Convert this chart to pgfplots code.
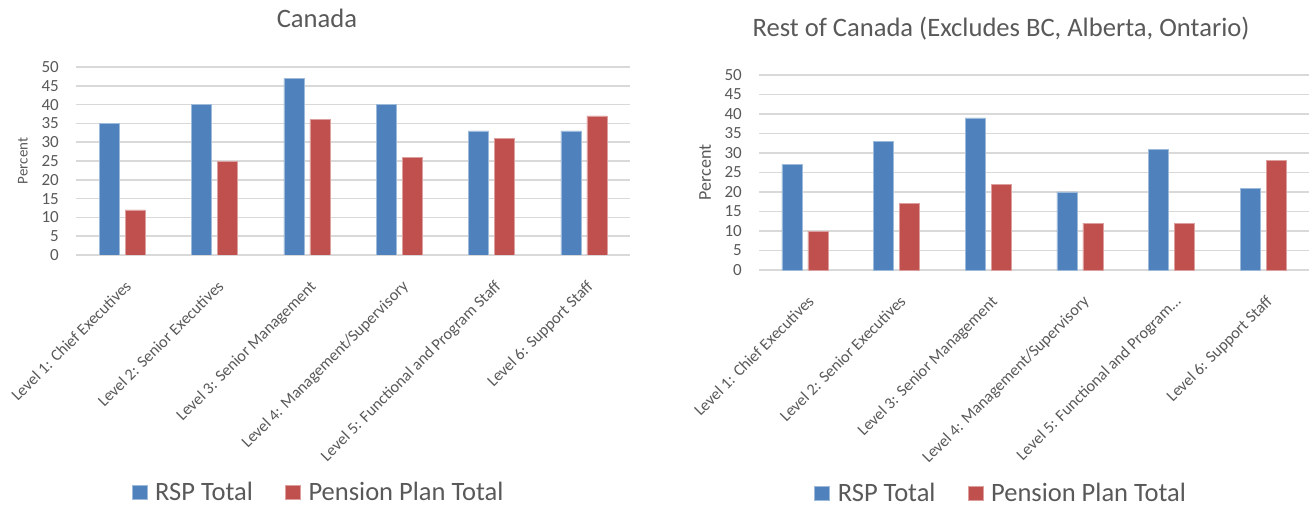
\documentclass[border=0pt]{standalone}
\usepackage{pgfplots}
\pgfplotsset{compat=1.18}
\usepackage{fontspec}
\setmainfont{Carlito}
\definecolor{rspblue}{HTML}{4F81BD}
\definecolor{pensred}{HTML}{C0504D}
\definecolor{gridgray}{HTML}{D9D9D9}
\definecolor{txtgray}{HTML}{595959}

\pgfplotsset{
  levelchart/.style={
    scale only axis,
    ybar, bar width=20pt, ybar=6pt,
    ymin=0, ymax=50, ytick={0,5,...,50},
    xmin=-0.5, xmax=5.5, xtick={0,...,5},
    axis line style={draw=none},
    tick style={draw=none},
    ymajorgrids, grid style={gridgray, line width=1.5pt},
    /pgf/number format/assume math mode=true,
    yticklabel style={font=\fontsize{17}{17}\selectfont, text=txtgray, anchor=east, inner sep=0pt, xshift=-17pt},
    xticklabel style={font=\fontsize{16.3}{16.3}\selectfont, text=txtgray, inner sep=0pt, xshift=2pt, yshift=-20pt, rotate=45, anchor=north east},
    every axis y label/.style={rotate=90, anchor=center, text=txtgray},
    every axis title/.style={anchor=center, text=txtgray, font=\fontsize{26.6}{26.6}\selectfont},
    legend columns=-1,
    legend style={draw=none, fill=none, inner sep=0pt, font=\fontsize{26.5}{26.5}\selectfont, text=txtgray, anchor=west,
      /tikz/every odd column/.append style={column sep=6pt},
      /tikz/every even column/.append style={column sep=30pt}},
    legend image code/.code={\fill[##1] (0pt,-7pt) rectangle (15pt,7pt);},
  },
  rsp/.style={fill=rspblue, draw=rspblue!55!white, line width=0.6pt},
  pens/.style={fill=pensred, draw=pensred!55!white, line width=0.6pt},
}

\begin{document}
\begin{tikzpicture}
\path[use as bounding box] (0,0) rectangle (1309pt,506pt);

% Canada
\begin{axis}[levelchart,
  at={(76pt,251pt)}, anchor=south west,
  width=554pt, height=188pt,
  xticklabels={Level 1: Chief Executives, Level 2: Senior Executives, Level 3: Senior Management, Level 4: Management/Supervisory, Level 5: Functional and Program Staff, Level 6: Support Staff},
  ylabel={Percent},
  ylabel style={at={(axis description cs:-0.096,0.5)}, font=\fontsize{15}{15}\selectfont},
  title={Canada},
  title style={at={(axis description cs:0.435,1.261)}},
  legend style={at={(axis description cs:0.1,-1.261)}},
]
\addplot[rsp] coordinates {(0,35) (1,40) (2,47) (3,40) (4,33) (5,33)};
\addplot[pens] coordinates {(0,12) (1,25) (2,36) (3,26) (4,31) (5,37)};
\legend{RSP Total, Pension Plan Total}
\end{axis}

% Rest of Canada
\begin{axis}[levelchart,
  at={(759pt,236pt)}, anchor=south west,
  width=550pt, height=195pt,
  xticklabels={Level 1: Chief Executives, Level 2: Senior Executives, Level 3: Senior Management, Level 4: Management/Supervisory, Level 5: Functional and Program…, Level 6: Support Staff},
  ylabel={Percent},
  ylabel style={at={(axis description cs:-0.098,0.5)}, font=\fontsize{18}{18}\selectfont},
  title={Rest of Canada (Excludes BC, Alberta, Ontario)},
  title style={at={(axis description cs:0.44,1.236)}},
  legend style={at={(axis description cs:0.1,-1.144)}},
]
\addplot[rsp] coordinates {(0,27) (1,33) (2,39) (3,20) (4,31) (5,21)};
\addplot[pens] coordinates {(0,10) (1,17) (2,22) (3,12) (4,12) (5,28)};
\legend{RSP Total, Pension Plan Total}
\end{axis}
\end{tikzpicture}
\end{document}
